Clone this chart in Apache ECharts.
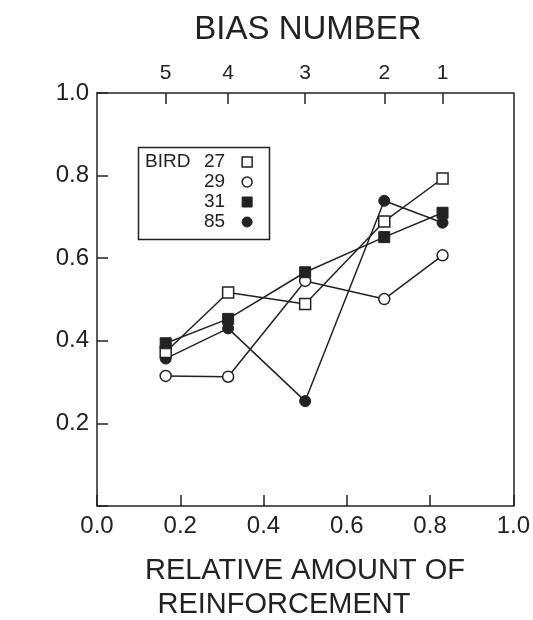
<!DOCTYPE html>
<html>
<head>
<meta charset="utf-8">
<script src="https://cdn.jsdelivr.net/npm/echarts@6/dist/echarts.min.js"></script>
<style>
  html, body { margin: 0; padding: 0; background: #fff; }
  #chart { width: 533px; height: 620px; }
</style>
</head>
<body>
<div id="chart"></div>
<script>
// relative amount of reinforcement for the five conditions
const xVals = [0.165, 0.315, 0.5, 0.69, 0.83]
const biasNumbers = ['5', '4', '3', '2', '1']

// P(L) for each bird
const bird27 = [0.373, 0.517, 0.489, 0.689, 0.793]
const bird29 = [0.315, 0.313, 0.545, 0.501, 0.607]
const bird31 = [0.394, 0.453, 0.566, 0.651, 0.71]
const bird85 = [0.357, 0.43, 0.254, 0.739, 0.686]

const ink = '#222'
const font = 'Liberation Sans'

function pairs(ys) {
  return xVals.map((x, i) => [x, ys[i]])
}

const openStyle = { color: '#fff', borderColor: ink, borderWidth: 1.5 }
const fillStyle = { color: ink, borderColor: ink, borderWidth: 1 }

function makeSeries(name, ys, symbol, style) {
  return {
    name: name,
    type: 'line',
    data: pairs(ys),
    symbol: symbol,
    symbolSize: 11,
    itemStyle: style,
    lineStyle: { color: ink, width: 1.5 },
    z: symbol === 'rect' ? 3 : 2,
    animation: false
  }
}

const chart = echarts.init(document.getElementById('chart'))

chart.setOption({
  backgroundColor: '#fff',
  grid: { left: 97, top: 93, width: 423, height: 413 },
  textStyle: { fontFamily: font, color: ink },
  xAxis: [
    {
      type: 'value', position: 'bottom', min: 0, max: 1, interval: 0.2,
      axisLine: { onZero: false, lineStyle: { color: ink, width: 1.5 } },
      axisTick: { inside: true, length: 11, lineStyle: { color: ink, width: 1.5 } },
      axisLabel: { color: ink, fontSize: 24, fontFamily: font, margin: 8, formatter: v => v.toFixed(1) },
      splitLine: { show: false }
    },
    {
      type: 'value', position: 'top', min: 0, max: 1,
      axisLine: { onZero: false, lineStyle: { color: ink, width: 1.5 } },
      axisTick: { inside: true, length: 11, customValues: xVals, lineStyle: { color: ink, width: 1.5 } },
      axisLabel: {
        color: ink, fontSize: 21, fontFamily: font, margin: 9,
        customValues: xVals,
        formatter: v => biasNumbers[xVals.indexOf(v)]
      },
      splitLine: { show: false }
    }
  ],
  yAxis: [
    {
      type: 'value', min: 0, max: 1, interval: 0.2,
      axisLine: { show: true, onZero: false, lineStyle: { color: ink, width: 1.5 } },
      axisTick: { show: true, inside: true, length: 11, lineStyle: { color: ink, width: 1.5 } },
      axisLabel: { color: ink, fontSize: 24, fontFamily: font, margin: 8, formatter: v => v === 0 ? '' : v.toFixed(1) },
      splitLine: { show: false }
    },
    {
      type: 'value', position: 'right', min: 0, max: 1,
      axisLine: { show: true, onZero: false, lineStyle: { color: ink, width: 1.5 } },
      axisTick: { show: false },
      axisLabel: { show: false },
      splitLine: { show: false }
    }
  ],
  legend: {
    orient: 'vertical',
    left: 199,
    top: 147,
    align: 'right',
    itemGap: 0,
    itemWidth: 10,
    itemHeight: 10,
    selectedMode: false,
    textStyle: { color: ink, fontSize: 19, fontFamily: font, lineHeight: 20, padding: [0, 12, 0, 0] },
    data: [
      { name: '27', icon: 'rect', itemStyle: openStyle },
      { name: '29', icon: 'circle', itemStyle: openStyle },
      { name: '31', icon: 'rect', itemStyle: fillStyle },
      { name: '85', icon: 'circle', itemStyle: fillStyle }
    ]
  },
  graphic: [
    {
      type: 'rect', left: 136, top: 145,
      shape: { width: 131, height: 92 },
      style: { fill: 'none', stroke: ink, lineWidth: 1.5 }
    },
    {
      type: 'text', left: 145, top: 152,
      style: { text: 'BIRD', fontSize: 19, fontFamily: font, fill: ink, lineHeight: 20 }
    },
    {
      type: 'text', x: 308, y: 30,
      style: { text: 'BIAS NUMBER', fontSize: 33, fontFamily: font, fill: ink, align: 'center', verticalAlign: 'middle' }
    },
    {
      type: 'text', x: 305, y: 571,
      style: { text: 'RELATIVE AMOUNT OF', fontSize: 29, fontFamily: font, fill: ink, align: 'center', verticalAlign: 'middle' }
    },
    {
      type: 'text', x: 284, y: 605,
      style: { text: 'REINFORCEMENT', fontSize: 29, fontFamily: font, fill: ink, align: 'center', verticalAlign: 'middle' }
    }
  ],
  series: [
    makeSeries('27', bird27, 'rect', openStyle),
    makeSeries('29', bird29, 'circle', openStyle),
    makeSeries('31', bird31, 'rect', fillStyle),
    makeSeries('85', bird85, 'circle', fillStyle)
  ]
})
</script>
</body>
</html>
